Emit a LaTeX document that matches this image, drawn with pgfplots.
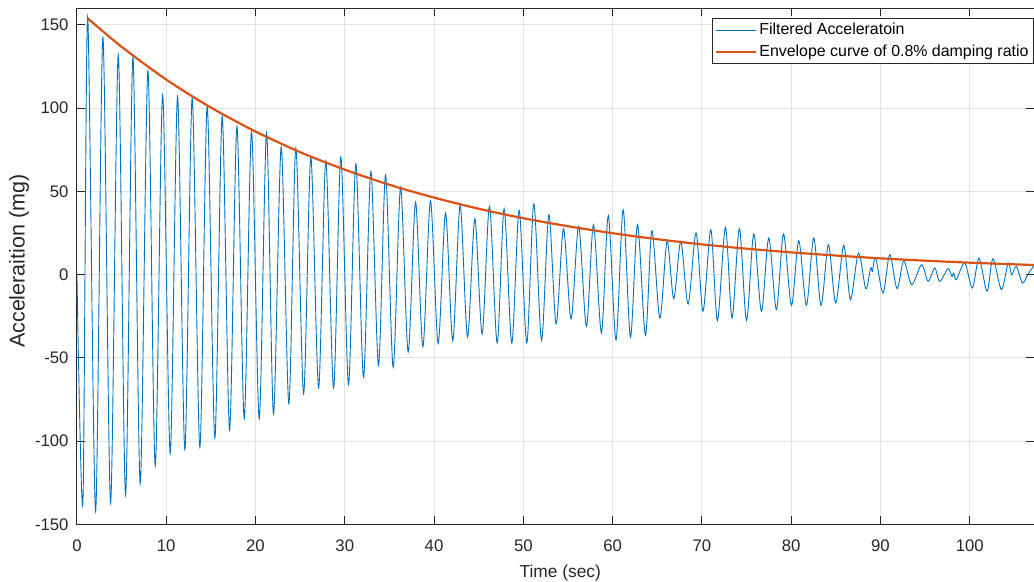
\documentclass[border=0pt]{standalone}
\usepackage{fontspec}
\setmainfont{Liberation Sans}
\usepackage{pgfplots}
\pgfplotsset{compat=1.18}
\definecolor{mblue}{HTML}{0072BD}
\definecolor{morange}{HTML}{D95319}
\definecolor{axgray}{HTML}{262626}
\definecolor{gridgray}{HTML}{E3E3E3}
\begin{document}
\begin{tikzpicture}
\begin{axis}[
  name=ax,
  scale only axis,
  width=479bp, height=258.3bp,
  xmin=0, xmax=107.2, ymin=-150, ymax=160,
  xtick={0,10,...,100}, ytick={-150,-100,-50,0,50,100,150},
  tick align=inside,
  major tick length=4bp,
  grid=major,
  grid style={color=gridgray, line width=0.5bp},
  axis line style={color=axgray, line width=0.5bp},
  tick style={color=axgray, line width=0.5bp},
  /pgf/number format/assume math mode=true,
  ticklabel style={font=\fontsize{8.4}{10}\selectfont, text=axgray},
  xticklabel style={yshift=-4bp},
  yticklabel style={xshift=-0.7bp},
  xlabel={Time (sec)},
  ylabel={Acceleraition (mg)},
  xlabel style={font=\fontsize{8.7}{10}\selectfont, text=axgray, at={(axis description cs:0.505,-0.095)}, anchor=center},
  ylabel style={font=\fontsize{10.8}{12}\selectfont, text=axgray, at={(axis description cs:-0.0605,0.51)}, anchor=center},
  legend cell align=left,
  legend style={at={(axis description cs:1.0,0.981)}, anchor=north east, draw=axgray, line width=0.5bp,
     font=\fontsize{8}{9.5}\selectfont, inner xsep=1.5bp, inner ysep=1bp, row sep=1.2bp,
     nodes={inner xsep=1bp, inner ysep=1.2bp}},
  legend image code/.code={\draw[#1] (0bp,0bp) -- (20bp,0bp);},
]
\addplot[color=mblue, line width=0.45bp, smooth] coordinates {
(0,0) (0.67,-137) (1.2,155) (2.09,-142) (2.91,142.4) (3.77,-137) (4.63,132) (5.45,-132.4) (6.27,130.4) (7.09,-125.6) (7.95,122.4) (8.77,-115) (9.6,108) (10.45,-107.4) (11.27,107) (12.09,-105) (12.91,106) (13.77,-103.6) (14.59,101) (15.45,-98) (16.27,95) (17.1,-93.4) (17.92,89) (18.74,-86.6) (19.56,86) (20.42,-86.6) (21.24,85.4) (22.02,-83.6) (22.88,76.6) (23.74,-77.6) (24.52,76) (25.39,-71.6) (26.2,70.4) (27.07,-68) (27.88,68.4) (28.75,-68) (29.56,70.6) (30.42,-66) (31.24,66.6) (32.1,-61.6) (32.92,62) (33.78,-54.6) (34.57,60) (35.42,-55.6) (36.25,52.4) (37.1,-46.4) (37.93,43.4) (38.75,-43.3) (39.6,44.2) (40.46,-41.3) (41.29,37) (42.1,-39.6) (42.92,41.6) (43.75,-37.4) (44.57,33.6) (45.39,-35.6) (46.21,41) (47.07,-41) (47.85,39.6) (48.71,-41) (49.53,38.6) (50.39,-41) (51.18,42.6) (52.04,-39.4) (52.86,36) (53.67,-29.6) (54.5,27.6) (55.35,-26.6) (56.2,29) (57.07,-31) (57.86,30) (58.75,-35) (59.52,35.5) (60.38,-39.2) (61.18,39) (62,-37.6) (62.79,30) (63.68,-36.4) (64.4,26.4) (65.29,-26) (66.1,20) (66.85,-14.4) (67.64,20) (68.46,-17.6) (69.35,25) (70.13,-22) (71,27) (71.74,-27.6) (72.64,28.4) (73.38,-26) (74.2,27.6) (75,-27.6) (75.81,24.4) (76.67,-22) (77.49,22) (78.35,-21) (79.14,24.5) (80.03,-18.4) (80.85,20.4) (81.71,-18.4) (82.53,22) (83.35,-18.4) (84.17,18) (84.99,-17) (85.89,17.6) (86.64,-15) (87.54,13) (88.36,-8.4) (88.9,4) (89.1,2) (89.47,10) (90.29,-11) (91.04,12) (91.86,-8.4) (92.61,8.4) (93.5,-6) (94.6,6) (95.34,-4) (96.08,4) (96.64,-4) (97.57,3.6) (98.0,-1) (98.2,1) (98.5,-3) (99.44,7) (100.3,-8) (101.04,10) (101.94,-10) (102.6,9.6) (103.55,-9) (104.3,7) (104.7,0) (105.23,5) (105.9,-5) (106.5,0) (107.2,5.6)
};
\addlegendentry{Filtered Acceleratoin}
\addplot[color=morange, line width=1.1bp, smooth] coordinates {
(1.2,154) (5,136.9) (10,117.2) (15,100.4) (20,86.0) (25,73.6) (30,63.1) (35,54.0) (40,46.3) (45,39.6) (50,33.9) (55,29.1) (60,24.9) (65,21.3) (70,18.2) (75,15.6) (80,13.4) (85,11.5) (90,9.8) (95,8.4) (100,7.2) (105,6.2) (107.2,5.8)
};
\addlegendentry{Envelope curve of 0.8\% damping ratio}
\end{axis}
\pgfresetboundingbox
\path[use as bounding box] (ax.south west) ++(-38.5bp,-28.5bp) rectangle ([yshift=4.15bp]ax.north east);
\end{tikzpicture}
\end{document}
